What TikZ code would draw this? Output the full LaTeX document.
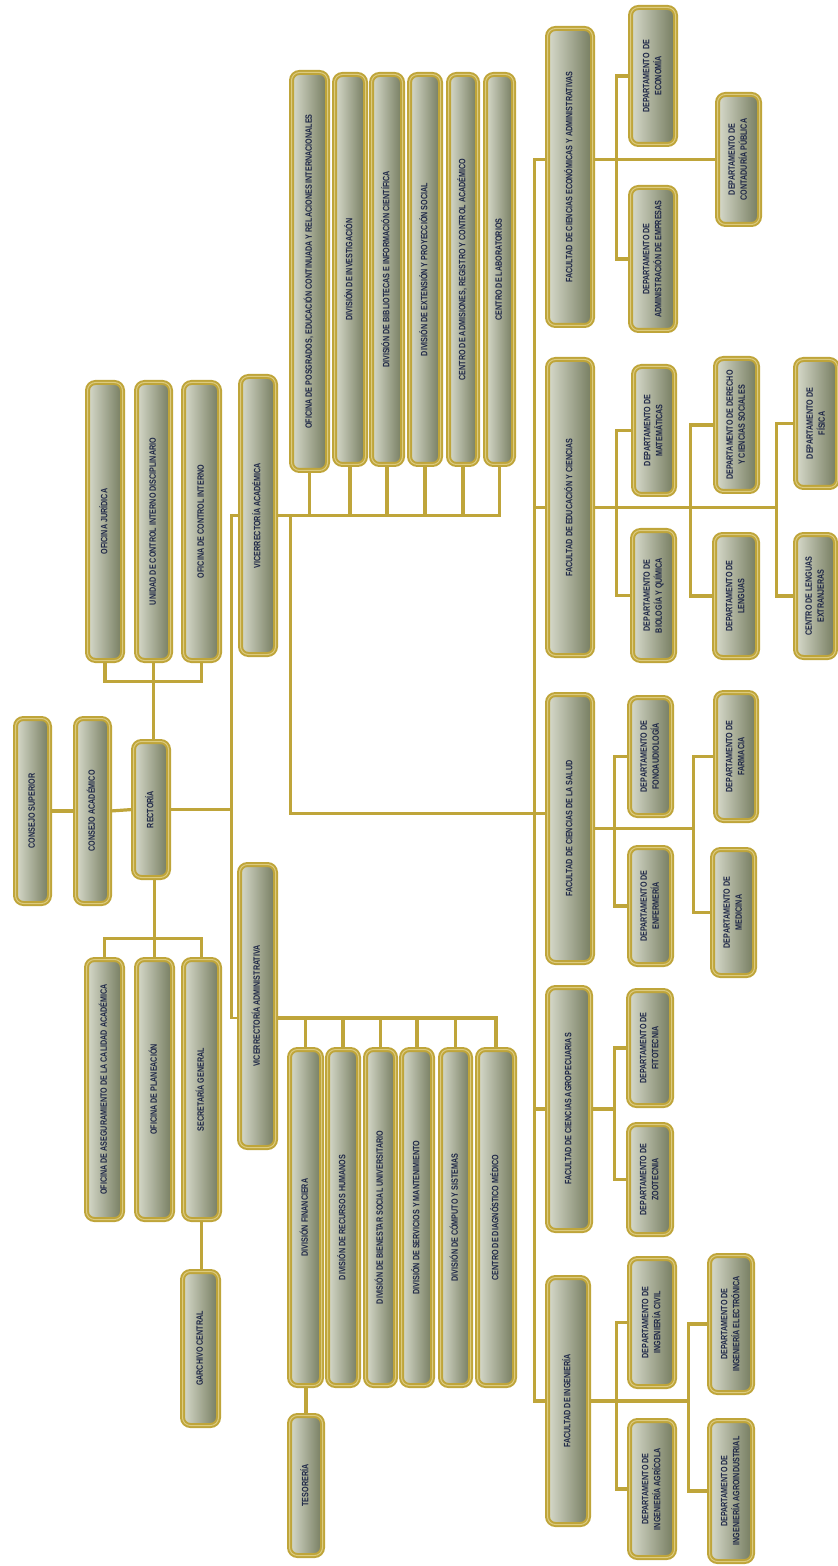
\documentclass[tikz,border=0pt]{standalone}
\usepackage{fontspec}
\usepackage{graphicx}
\newfontfamily\orgfont[FakeStretch=0.78]{Liberation Sans}

\definecolor{orggold}{HTML}{BFA53A}
\definecolor{orggoldlight}{HTML}{DCCB80}
\definecolor{boxlight}{HTML}{D8DBCC}
\definecolor{boxmid}{HTML}{B9BDA7}
\definecolor{boxdark}{HTML}{747B5E}
\definecolor{orgtext}{HTML}{1E2747}

\tikzset{
  orgbox/.style={rectangle, rounded corners=4pt, draw=orggold, line width=1pt,
    double=orggoldlight, double distance=0.5pt,
    left color=boxlight, middle color=boxmid, right color=boxdark,
    inner sep=0pt, text=orgtext,
    font=\orgfont\bfseries\fontsize{4.6}{6}\selectfont},
  link/.style={draw=orggold, line width=1.6pt},
  spine/.style={draw=orggold, line width=1.1pt}
}

% box from (x1,y1) to (x2,y2) in picture pixels, text turned upwards
\newcommand{\orgnode}[6]{%
  \node[orgbox, minimum width={(#4-#2)*0.5pt-2.5pt}, minimum height={(#5-#3)*0.5pt-2.5pt}]
    (#1) at ({(#2+#4)/2},{(#3+#5)/2}) {\rotatebox{90}{\begin{tabular}{@{}c@{}}#6\end{tabular}}};}

\begin{document}
\begin{tikzpicture}[x=0.5pt, y=-0.5pt]
  \useasboundingbox (0,0) rectangle (838,1566);

  % governing bodies
  \orgnode{csup}{13}{716}{52}{906}{CONSEJO SUPERIOR}
  \orgnode{cacad}{73}{716}{112}{906}{CONSEJO ACADÉMICO}
  \orgnode{rect}{131}{739}{171}{880}{RECTORÍA}

  % offices of the rector
  \orgnode{ojur}{85}{380}{125}{663}{OFICINA JURÍDICA}
  \orgnode{ucid}{134}{380}{173}{663}{UNIDAD DE CONTROL INTERNO DISCIPLINARIO}
  \orgnode{ocin}{181}{380}{222}{663}{OFICINA DE CONTROL INTERNO}
  \orgnode{oacal}{84}{957}{125}{1222}{OFICINA DE ASEGURAMIENTO DE LA CALIDAD ACADÉMICA}
  \orgnode{plan}{134}{957}{175}{1222}{OFICINA DE PLANEACIÓN}
  \orgnode{sgen}{181}{957}{222}{1222}{SECRETARÍA GENERAL}
  \orgnode{arch}{180}{1269}{221}{1428}{GARCHIVO CENTRAL}

  % vice rectors
  \orgnode{vacad}{238}{374}{278}{657}{VICERRECTORÍA ACADÉMICA}
  \orgnode{vadm}{237}{862}{278}{1150}{VICERRECTORÍA ADMINISTRATIVA}

  % academic units
  \orgnode{posg}{289}{70}{330}{473}{OFICINA DE POSGRADOS, EDUCACIÓN CONTINUADA Y RELACIONES INTERNACIONALES}
  \orgnode{dinv}{332}{72}{368}{467}{DIVISIÓN DE INVESTIGACIÓN}
  \orgnode{dbib}{369}{72}{405}{467}{DIVISIÓN DE BIBLIOTECAS E INFORMACIÓN CIENTÍFICA}
  \orgnode{dext}{407}{72}{443}{467}{DIVISIÓN DE EXTENSIÓN Y PROYECCIÓN SOCIAL}
  \orgnode{cadm}{446}{72}{480}{467}{CENTRO DE ADMISIONES, REGISTRO Y CONTROL ACADÉMICO}
  \orgnode{clab}{483}{72}{516}{467}{CENTRO DE LABORATORIOS}

  % administrative units
  \orgnode{dfin}{287}{1047}{324}{1388}{DIVISIÓN FINANCIERA}
  \orgnode{drh}{325}{1047}{361}{1388}{DIVISIÓN DE RECURSOS HUMANOS}
  \orgnode{dbien}{363}{1047}{398}{1388}{DIVISIÓN DE BIENESTAR SOCIAL UNIVERSITARIO}
  \orgnode{dserv}{399}{1047}{435}{1388}{DIVISIÓN DE SERVICIOS Y MANTENIMIENTO}
  \orgnode{dcomp}{438}{1047}{473}{1388}{DIVISIÓN DE CÓMPUTO Y SISTEMAS}
  \orgnode{cdiag}{475}{1047}{517}{1388}{CENTRO DE DIAGNÓSTICO MÉDICO}
  \orgnode{tes}{287}{1413}{325}{1558}{TESORERÍA}

  % faculties
  \orgnode{fecon}{545}{26}{595}{328}{FACULTAD DE CIENCIAS ECONÓMICAS Y ADMINISTRATIVAS}
  \orgnode{fedu}{545}{357}{595}{658}{FACULTAD DE EDUCACIÓN Y CIENCIAS}
  \orgnode{fsal}{545}{692}{595}{965}{FACULTAD DE CIENCIAS DE LA SALUD}
  \orgnode{fagro}{545}{985}{593}{1233}{FACULTAD DE CIENCIAS AGROPECUARIAS}
  \orgnode{fing}{545}{1275}{591}{1527}{FACULTAD DE INGENIERÍA}

  % departments
  \orgnode{decon}{628}{5}{678}{147}{DEPARTAMENTO~~DE\\ECONOMÍA}
  \orgnode{dadm}{628}{185}{678}{333}{DEPARTAMENTO DE\\ADMINISTRACIÓN DE EMPRESAS}
  \orgnode{dcont}{715}{92}{762}{227}{DEPARTAMENTO DE\\CONTADURÍA PÚBLICA}
  \orgnode{dmat}{631}{364}{677}{497}{DEPARTAMENTO DE\\MATEMÁTICAS}
  \orgnode{dbio}{630}{528}{677}{663}{DEPARTAMENTO DE\\BIOLOGÍA Y QUÍMICA}
  \orgnode{dder}{713}{356}{760}{494}{DEPARTAMENTO DE DERECHO\\Y CIENCIAS SOCIALES}
  \orgnode{dleng}{712}{532}{760}{660}{DEPARTAMENTO DE\\LENGUAS}
  \orgnode{dfis}{793}{357}{840}{490}{DEPARTAMENTO DE\\FÍSICA}
  \orgnode{cle}{793}{532}{838}{660}{CENTRO DE LENGUAS\\EXTRANJERAS}
  \orgnode{dfono}{627}{695}{674}{818}{DEPARTAMENTO DE\\FONOAUDIOLOGÍA}
  \orgnode{denf}{627}{845}{674}{967}{DEPARTAMENTO DE\\ENFERMERÍA}
  \orgnode{dfarm}{713}{690}{759}{823}{DEPARTAMENTO DE\\FARMACIA}
  \orgnode{dmed}{710}{847}{757}{978}{DEPARTAMENTO DE\\MEDICINA}
  \orgnode{dfito}{626}{988}{674}{1108}{DEPARTAMENTO DE\\FITOTECNIA}
  \orgnode{dzoo}{626}{1122}{674}{1237}{DEPARTAMENTO DE\\ZOOTECNIA}
  \orgnode{dcivil}{627}{1256}{677}{1389}{DEPARTAMENTO DE\\INGENIERÍA CIVIL}
  \orgnode{dagri}{627}{1418}{677}{1560}{DEPARTAMENTO DE\\INGENIERÍA AGRÍCOLA}
  \orgnode{delec}{707}{1253}{755}{1395}{DEPARTAMENTO DE\\INGENIERÍA ELECTRÓNICA}
  \orgnode{dagroi}{707}{1418}{755}{1564}{DEPARTAMENTO DE\\INGENIERÍA AGROINDUSTRIAL}

  % rector and councils
  \draw[link] (csup.east) -- (cacad.west);
  \draw[link] (cacad.east) -- (rect.west);
  \draw[link] (ojur.south) -- ++(0,20) -| (ocin.south);
  \draw[link] (ucid.south) -- (ucid.south |- rect.north);
  \draw[link] (oacal.north) -- ++(0,-20) -| (sgen.north);
  \draw[link] (plan.north |- rect.south) -- (plan.north);
  \draw[link] (sgen.south) -- (sgen.south |- arch.north);

  % spine to the vice rectors
  \draw[spine] (vacad.west) -- ++(-8,0) coordinate (sp) |- ([yshift=-6pt]vadm.west);
  \draw[link] (rect.east) -- (rect.east -| sp);

  % academic bus
  \draw[link] (vacad.east) -| (clab.south);
  \foreach \n in {posg,dinv,dbib,dext,cadm}
    \draw[link] (\n.south) -- (\n.south |- vacad.east);

  % administrative bus
  \coordinate (admbus) at ([yshift=-6pt]vadm.east);
  \draw[link] (admbus) -| (cdiag.north);
  \foreach \n in {dfin,drh,dbien,dserv,dcomp}
    \draw[link] (\n.north) -- (\n.north |- admbus);
  \draw[link] (tes.north |- dfin.south) -- (tes.north);

  % faculties trunk
  \draw[link] (posg.west |- vacad.east) |- ([yshift=7.5pt]fsal.west);
  \draw[link] (fecon.west |- dcont.west) -- ++(-12,0) coordinate (ft) |- (fing.west);
  \foreach \n in {fedu,fagro}
    \draw[link] (\n.west) -- (\n.west -| ft);

  % economics
  \draw[link] (fecon.east |- dcont.west) -- (dcont.west);
  \draw[link] (decon.west) -- ++(-13,0) |- (dadm.west);

  % education
  \draw[link] (dmat.west) -- ++(-16,0) |- (dbio.west);
  \draw[link] (dder.west) -- ++(-24,0) |- (dleng.west);
  \draw[link] (dfis.west) -- ++(-18,0) coordinate (bedu) |- (cle.west);
  \draw[link] (fedu.east) -- (fedu.east -| bedu);

  % health
  \draw[link] (dfono.west) -- ++(-14,0) |- (denf.west);
  \draw[link] (dfarm.west) -- ++(-21,0) coordinate (bsal) |- (dmed.west);
  \draw[link] (fsal.east) -- (fsal.east -| bsal);

  % agriculture
  \draw[link] (dfito.west) -- ++(-13,0) coordinate (bagro) |- (dzoo.west);
  \draw[link] (fagro.east) -- (fagro.east -| bagro);

  % engineering
  \draw[link] (dcivil.west) -- ++(-12,0) |- (dagri.west);
  \draw[link] (delec.west) -- ++(-20,0) coordinate (bing) |- (dagroi.west);
  \draw[link] (fing.east) -- (fing.east -| bing);
\end{tikzpicture}
\end{document}
